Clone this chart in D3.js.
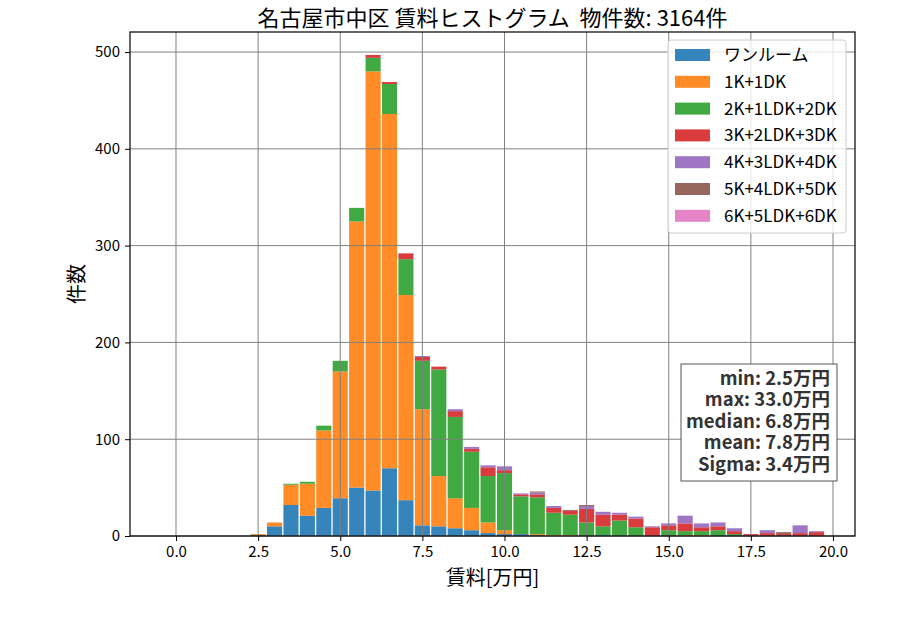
<!DOCTYPE html>
<html>
<head>
<meta charset="utf-8">
<script src="https://cdn.jsdelivr.net/npm/d3@7"></script>
<style>
  body { margin: 0; background: #fff; }
  svg { font-family: "Noto Sans CJK JP", "Noto Sans", sans-serif; }
</style>
</head>
<body>
<svg width="900" height="630"></svg>
<script>
// bin centres (万円), bin width 0.5
const binCenters = d3.range(35).map(i => 2.5 + i * 0.5)
const layouts = ["ワンルーム", "1K+1DK", "2K+1LDK+2DK", "3K+2LDK+3DK", "4K+3LDK+4DK", "5K+4LDK+5DK", "6K+5LDK+6DK"]
const colors = ["#1f77b4", "#ff7f0e", "#2ca02c", "#d62728", "#9467bd", "#8c564b", "#e377c2"]

// counts per bin
const oneRoom  = [1,10,32,21,29,39,50,47,70,37,11,10,8,6,3,2,2,1,0,0,0,1,0,0,0,0,0,0,0,0,0,0,0,0,0]
const k1dk     = [1,4,21,33,80,131,275,433,366,212,120,52,31,23,11,4,0,1,1,1,0,0,0,0,0,0,1,1,0,0,0,0,0,0,0]
const k2ldk    = [0,0,1,2,5,11,14,14,31,37,50,110,84,58,48,59,39,38,23,21,14,9,16,9,0,6,4,4,6,2,0,0,0,0,0]
const k3ldk    = [0,0,0,0,0,0,0,3,2,6,4,3,6,3,9,3,2,3,5,4,14,12,6,9,9,5,8,4,4,3,2,3,2,3,4]
const k4ldk    = [0,0,0,0,0,0,0,0,0,0,1,0,2,2,2,4,1,2,2,0,3,3,2,2,1,2,8,4,4,3,0,3,0,8,1]
const k5ldk    = [0,0,0,0,0,0,0,0,0,0,0,0,0,0,0,0,0,1,0,1,1,0,0,0,0,0,0,0,0,0,0,0,2,0,0]
const k6ldk    = [0,0,0,0,0,0,0,0,0,0,0,0,0,0,0,0,0,0,0,0,0,0,0,0,0,0,0,0,0,0,0,0,0,0,0]
const seriesValues = [oneRoom, k1dk, k2ldk, k3ldk, k4ldk, k5ldk, k6ldk]

const xTicks = [0, 2.5, 5, 7.5, 10, 12.5, 15, 17.5, 20]
const yTicks = [0, 100, 200, 300, 400, 500]
const statLines = ["min: 2.5万円", "max: 33.0万円", "median: 6.8万円", "mean: 7.8万円", "Sigma: 3.4万円"]

const svg = d3.select("svg")
const plotL = 130, plotR = 855, plotT = 32, plotB = 536

const x = d3.scaleLinear().domain([-1.4, 20.67]).range([plotL, plotR])
const y = d3.scaleLinear().domain([0, 520.7]).range([plotB, plotT])

// table for d3.stack
const table = binCenters.map((c, i) => {
  const row = { c: c }
  layouts.forEach((k, j) => { row[k] = seriesValues[j][i] })
  return row
})
const stacked = d3.stack().keys(layouts)(table)

const binW = 0.5
const barW = x(binW * 0.92) - x(0)

svg.selectAll("g.layer")
  .data(stacked)
  .enter()
  .append("g")
  .attr("class", "layer")
  .attr("fill", (d, i) => colors[i])
  .attr("fill-opacity", 0.9)
  .selectAll("rect")
  .data(d => d.filter(p => p[1] > p[0]))
  .enter()
  .append("rect")
  .attr("x", d => x(d.data.c) - barW / 2)
  .attr("width", barW)
  .attr("y", d => y(d[1]))
  .attr("height", d => y(d[0]) - y(d[1]))

// grid on top of the bars
const grid = svg.append("g").attr("stroke", "#808080").attr("stroke-width", 1)
xTicks.forEach(t => {
  grid.append("line").attr("x1", x(t)).attr("x2", x(t)).attr("y1", plotT).attr("y2", plotB)
})
yTicks.forEach(t => {
  grid.append("line").attr("x1", plotL).attr("x2", plotR).attr("y1", y(t)).attr("y2", y(t))
})

// axes
const axisX = d3.axisBottom(x).tickValues(xTicks).tickFormat(d3.format(".1f")).tickSizeOuter(0).tickSize(5).tickPadding(5)
const axisY = d3.axisLeft(y).tickValues(yTicks).tickSizeOuter(0).tickSize(5).tickPadding(5)

const gx = svg.append("g").attr("transform", `translate(0,${plotB})`).call(axisX)
const gy = svg.append("g").attr("transform", `translate(${plotL},0)`).call(axisY)
;[gx, gy].forEach(g => {
  g.select(".domain").remove()
  g.selectAll("text").attr("font-size", 15).attr("fill", "#000").attr("font-family", "Noto Sans CJK JP")
  g.selectAll("line").attr("stroke", "#000")
})

// frame
svg.append("rect")
  .attr("x", plotL).attr("y", plotT)
  .attr("width", plotR - plotL).attr("height", plotB - plotT)
  .attr("fill", "none").attr("stroke", "#000").attr("stroke-width", 1.2)

// labels
svg.append("text")
  .attr("x", (plotL + plotR) / 2).attr("y", 26)
  .attr("text-anchor", "middle").attr("font-size", 22)
  .attr("xml:space", "preserve")
  .text("名古屋市中区 賃料ヒストグラム  物件数: 3164件")

svg.append("text")
  .attr("x", (plotL + plotR) / 2).attr("y", 585)
  .attr("text-anchor", "middle").attr("font-size", 20)
  .text("賃料[万円]")

svg.append("text")
  .attr("transform", `translate(84,${(plotT + plotB) / 2}) rotate(-90)`)
  .attr("text-anchor", "middle").attr("font-size", 20)
  .text("件数")

// legend
const legend = svg.append("g")
legend.append("rect")
  .attr("x", 668).attr("y", 40).attr("width", 178).attr("height", 193)
  .attr("rx", 3)
  .attr("fill", "#fff").attr("fill-opacity", 0.8)
  .attr("stroke", "#cccccc")
layouts.forEach((k, i) => {
  const ly = 55 + i * 26.8
  legend.append("rect")
    .attr("x", 675).attr("y", ly - 6).attr("width", 35).attr("height", 12)
    .attr("fill", colors[i]).attr("fill-opacity", 0.9)
  legend.append("text")
    .attr("x", 724).attr("y", ly + 6)
    .attr("font-size", 17)
    .text(k)
})

// stats box
svg.append("rect")
  .attr("x", 681).attr("y", 364).attr("width", 156).attr("height", 117)
  .attr("fill", "#fff").attr("stroke", "#555")
statLines.forEach((s, i) => {
  svg.append("text")
    .attr("x", 830).attr("y", 385 + i * 21.4)
    .attr("text-anchor", "end")
    .attr("font-size", 18.5).attr("font-weight", "bold")
    .attr("fill", "#333")
    .text(s)
})
</script>
</body>
</html>
